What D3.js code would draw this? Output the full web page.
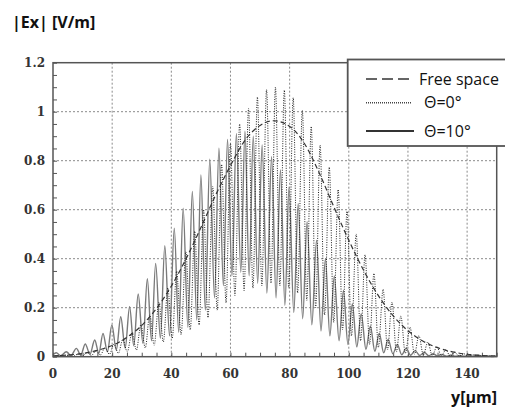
<!DOCTYPE html>
<html>
<head>
<meta charset="utf-8">
<script src="https://cdn.jsdelivr.net/npm/d3@7"></script>
<style>
  body { margin: 0; background: #fff; }
  svg { display: block; }
</style>
</head>
<body>
<div class="container"></div>
<script>
const xTicks = [0, 20, 40, 60, 80, 100, 120, 140];
const yTicks = [0, 0.2, 0.4, 0.6, 0.8, 1, 1.2];
const yTickLabels = ['0', '0.2', '0.4', '0.6', '0.8', '1', '1.2'];
const legendLabels = ['Free space', 'Θ=0°', 'Θ=10°'];

// free space (dashed)
const freeSpace = [
  [0, 0.003], [5, 0.007], [10, 0.013], [15, 0.026], [20, 0.046], [25, 0.079], [30, 0.128],
  [35, 0.197], [40, 0.288], [45, 0.4], [50, 0.527], [55, 0.66], [60, 0.78], [65, 0.885],
  [70, 0.944], [74.4, 0.963], [80, 0.94], [85, 0.87], [90, 0.75], [95, 0.61], [100, 0.475],
  [105, 0.353], [110, 0.249], [115, 0.167], [120, 0.106], [125, 0.064], [130, 0.037],
  [135, 0.02], [140, 0.01], [145, 0.005], [150, 0.002]
];

// theta = 0 deg (dotted), peaks and troughs
const theta0 = [
  [0, 0.002], [2.4, 0.005], [3.9, 0.001], [5.4, 0.007], [6.9, 0.002], [8.5, 0.011], [10.0, 0.003],
  [11.5, 0.017], [13.0, 0.005], [14.5, 0.024], [16.0, 0.007], [17.6, 0.036], [19.1, 0.01],
  [20.6, 0.051], [22.1, 0.014], [23.6, 0.07], [25.1, 0.02], [26.7, 0.097], [28.2, 0.027],
  [29.7, 0.13], [31.2, 0.036], [32.7, 0.171], [34.2, 0.047], [35.8, 0.222], [37.3, 0.06],
  [38.8, 0.281], [40.3, 0.075], [41.8, 0.349], [43.3, 0.09], [44.9, 0.428], [46.4, 0.11],
  [47.9, 0.512], [49.4, 0.13], [50.9, 0.6], [52.4, 0.16], [54.0, 0.695], [55.5, 0.19],
  [57.0, 0.785], [58.5, 0.22], [60.0, 0.87], [61.5, 0.25], [63.1, 0.95], [64.6, 0.27],
  [66.1, 1.013], [67.6, 0.28], [69.1, 1.06], [70.6, 0.29], [72.2, 1.09], [73.7, 0.3],
  [75.2, 1.1], [76.7, 0.29], [78.2, 1.088], [79.7, 0.28], [81.2, 1.057], [82.7, 0.26],
  [84.3, 1.005], [85.8, 0.23], [87.3, 0.94], [88.8, 0.2], [90.3, 0.864], [91.8, 0.17],
  [93.4, 0.774], [94.9, 0.14], [96.4, 0.682], [97.9, 0.11], [99.4, 0.593], [100.9, 0.085],
  [102.5, 0.501], [104.0, 0.065], [105.5, 0.416], [107.0, 0.05], [108.5, 0.34], [110.0, 0.038],
  [111.6, 0.275], [113.1, 0.028], [114.6, 0.223], [116.1, 0.02], [117.6, 0.166], [119.1, 0.014],
  [120.7, 0.12], [122.2, 0.01], [123.7, 0.086], [125.2, 0.007], [126.7, 0.06], [128.2, 0.005],
  [129.8, 0.041], [131.3, 0.003], [132.8, 0.028], [134.3, 0.002], [135.8, 0.018], [137.3, 0.002],
  [138.9, 0.012], [140.4, 0.001], [141.9, 0.008], [143.4, 0.001], [144.9, 0.005], [146.4, 0.001],
  [148.0, 0.003], [149.5, 0.001]
];

// theta = 10 deg (solid grey), peaks and troughs
const theta10 = [
  [0, 0.008], [1.1, 0.016], [2.6, 0.004], [4.5, 0.02], [6.1, 0.005], [7.9, 0.034], [9.4, 0.007],
  [10.9, 0.052], [12.5, 0.01], [14.1, 0.068], [15.5, 0.014], [16.9, 0.095], [18.4, 0.02],
  [19.9, 0.13], [21.4, 0.027], [22.9, 0.163], [24.4, 0.035], [25.9, 0.204], [27.3, 0.045],
  [28.8, 0.256], [30.4, 0.055], [31.9, 0.318], [33.3, 0.065], [34.7, 0.381], [36.3, 0.075],
  [37.8, 0.453], [39.4, 0.085], [41.0, 0.524], [42.5, 0.1], [44.0, 0.606], [45.6, 0.12],
  [47.1, 0.674], [48.6, 0.15], [50.0, 0.742], [51.5, 0.19], [53.0, 0.806], [54.6, 0.24],
  [56.1, 0.851], [57.6, 0.29], [59.0, 0.887], [60.5, 0.33], [62.0, 0.91], [63.5, 0.345],
  [64.9, 0.92], [66.3, 0.33], [67.7, 0.9], [69.2, 0.3], [70.7, 0.864], [72.3, 0.26],
  [73.9, 0.816], [75.4, 0.24], [76.9, 0.762], [78.4, 0.21], [79.8, 0.694], [81.4, 0.18],
  [82.9, 0.626], [84.4, 0.155], [85.9, 0.551], [87.5, 0.13], [89.1, 0.476], [90.6, 0.105],
  [92.1, 0.4], [93.6, 0.085], [95.1, 0.33], [96.7, 0.065], [98.2, 0.27], [99.7, 0.05],
  [101.2, 0.215], [102.7, 0.04], [104.2, 0.175], [105.8, 0.03], [107.3, 0.125], [108.8, 0.022],
  [110.3, 0.095], [111.8, 0.016], [113.3, 0.07], [114.9, 0.012], [116.4, 0.05], [117.9, 0.008],
  [119.4, 0.035], [120.9, 0.006], [122.4, 0.025], [124.0, 0.005], [125.5, 0.018], [127.0, 0.004],
  [128.5, 0.012], [130.0, 0.003], [131.5, 0.009], [133.0, 0.002], [134.6, 0.007], [136.0, 0.002],
  [137.6, 0.005], [139.0, 0.002], [140.6, 0.005], [142.2, 0.002], [143.7, 0.006], [145.2, 0.002],
  [146.7, 0.004], [148.2, 0.001], [149.7, 0.003]
];

const width = 505;
const height = 409;
const margin = { top: 62.7, right: 8.3, bottom: 52.3, left: 53 };
const chartWidth = width - margin.left - margin.right;
const chartHeight = height - margin.top - margin.bottom;

const svg = d3.select('.container').append('svg').attr('width', width).attr('height', height);
const chart = svg.append('g').attr('transform', `translate(${margin.left},${margin.top})`);

const xScale = d3.scaleLinear().domain([0, 150]).range([0, chartWidth]);
const yScale = d3.scaleLinear().domain([0, 1.2]).range([chartHeight, 0]);

// grid
const grid = chart.append('g').attr('class', 'grid');
grid.selectAll('.gx').data(xTicks.filter(d => d > 0)).enter().append('line')
  .attr('x1', d => xScale(d)).attr('x2', d => xScale(d))
  .attr('y1', 0).attr('y2', chartHeight);
grid.selectAll('.gy').data(yTicks.filter(d => d > 0 && d < 1.2)).enter().append('line')
  .attr('x1', 0).attr('x2', chartWidth)
  .attr('y1', d => yScale(d)).attr('y2', d => yScale(d));
grid.selectAll('line').attr('stroke', '#8a8a8a').attr('stroke-width', 1).attr('stroke-dasharray', '2,2');

// minor ticks (inside)
const bottomAxis = d3.axisBottom(xScale).ticks(30).tickSizeInner(-4).tickSizeOuter(0).tickFormat('');
const leftAxis = d3.axisLeft(yScale).ticks(30).tickSizeInner(-4).tickSizeOuter(0).tickFormat('');
const bottomG = chart.append('g').attr('transform', `translate(0,${chartHeight})`).call(bottomAxis);
const leftG = chart.append('g').call(leftAxis);
[bottomG, leftG].forEach(g => {
  g.select('.domain').remove();
  g.selectAll('line').attr('stroke', '#555');
});

// tick labels
chart.append('g').selectAll('text').data(xTicks).enter().append('text')
  .attr('x', d => xScale(d)).attr('y', chartHeight + 21)
  .attr('text-anchor', 'middle')
  .text(d => d);
chart.append('g').selectAll('text').data(yTicks).enter().append('text')
  .attr('x', -8).attr('y', d => yScale(d)).attr('dy', '0.36em')
  .attr('text-anchor', 'end')
  .text((d, i) => yTickLabels[i]);
chart.selectAll('g text')
  .attr('font-family', 'DejaVu Serif').attr('font-weight', 'bold').attr('font-size', 12).attr('fill', '#333');

// series
const line = d3.line().x(d => xScale(d[0])).y(d => yScale(d[1])).curve(d3.curveMonotoneX);
const linesGroup = chart.append('g').attr('class', 'lines');
linesGroup.append('path').attr('d', line(theta10)).attr('fill', 'none')
  .attr('stroke', '#7a7a7a').attr('stroke-width', 1.4);
linesGroup.append('path').attr('d', line(theta0)).attr('fill', 'none')
  .attr('stroke', '#222').attr('stroke-width', 1).attr('stroke-dasharray', '1,1.4');
linesGroup.append('path').attr('d', line(freeSpace)).attr('fill', 'none')
  .attr('stroke', '#333').attr('stroke-width', 1.2).attr('stroke-dasharray', '5,3');

// frame
chart.append('rect').attr('width', chartWidth).attr('height', chartHeight)
  .attr('fill', 'none').attr('stroke', '#555').attr('stroke-width', 1.5);

// legend
const legend = svg.append('g').attr('class', 'legend');
legend.append('rect').attr('x', 347.7).attr('y', 59.5).attr('width', 170).attr('height', 86.5)
  .attr('fill', '#fff').attr('stroke', '#555').attr('stroke-width', 1.8);
const legendY = [79, 102.7, 131];
const legendDash = ['11,5', '1,1', null];
const legendItem = legend.selectAll('.item').data(legendLabels).enter().append('g');
legendItem.append('line')
  .attr('x1', 366).attr('x2', (d, i) => i === 2 ? 414 : 411)
  .attr('y1', (d, i) => legendY[i]).attr('y2', (d, i) => legendY[i])
  .attr('stroke', (d, i) => i === 1 ? '#444' : '#333')
  .attr('stroke-width', (d, i) => i === 2 ? 2 : 1.5)
  .attr('stroke-dasharray', (d, i) => legendDash[i]);
legendItem.append('text')
  .attr('x', (d, i) => i === 0 ? 419 : 424)
  .attr('y', (d, i) => legendY[i] + 5.5)
  .attr('font-family', 'Open Sans').attr('font-size', 16).attr('fill', '#111')
  .text(d => d);

// axis titles
svg.append('text').text('|Ex| [V/m]')
  .attr('x', 12).attr('y', 28)
  .attr('font-family', 'Open Sans').attr('font-weight', 'bold').attr('font-size', 16).attr('fill', '#111');
svg.append('text').text('y[μm]')
  .attr('x', 497).attr('y', 403).attr('text-anchor', 'end')
  .attr('font-family', 'Open Sans').attr('font-weight', 'bold').attr('font-size', 16).attr('fill', '#111');
</script>
</body>
</html>
